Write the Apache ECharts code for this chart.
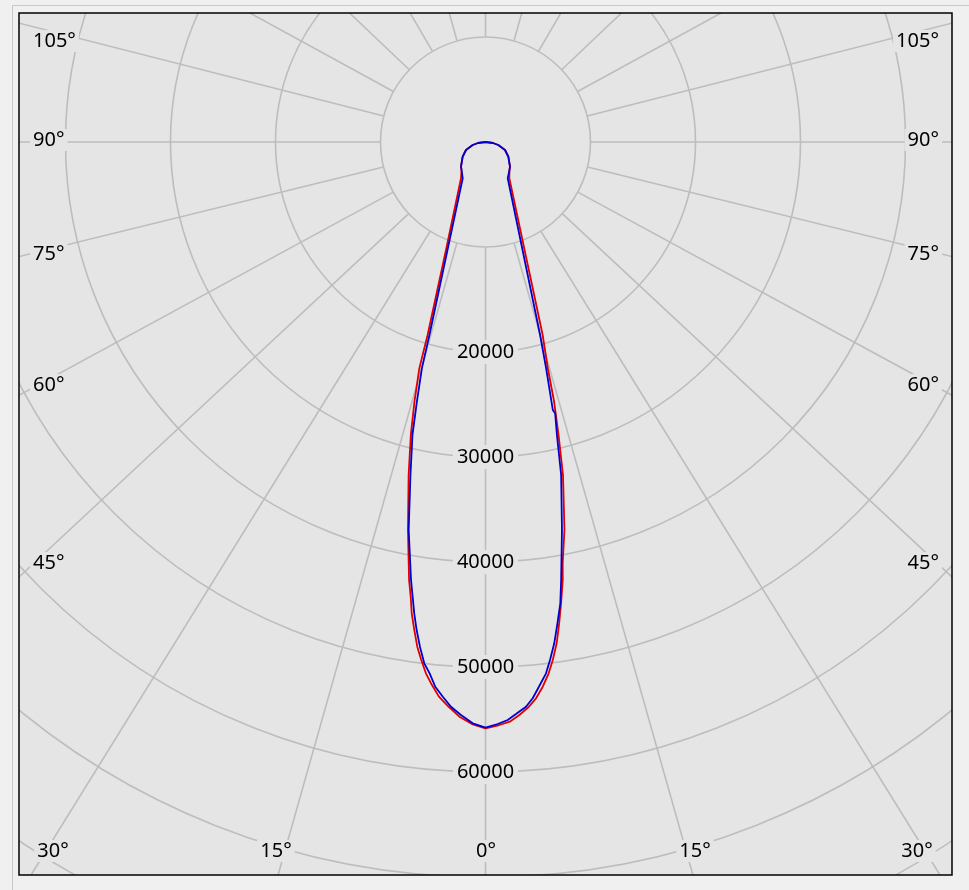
<!DOCTYPE html>
<html>
<head>
<meta charset="utf-8">
<script src="https://cdn.jsdelivr.net/npm/echarts@6.0.0/dist/echarts.min.js"></script>
<style>
    html, body { margin: 0; padding: 0; background: #f0f0f0; }
    #polarchart { width: 969px; height: 890px; }
</style>
</head>
<body>
<div id="polarchart"></div>
<script type="text/javascript">
    // luminous intensity (cd) against angle from nadir (deg)
    // C0-C180 plane (red), left half from 90 down to 0, right half from 0 up to 90
    var redLeftDeg  = [90, 82.4, 76.8, 67.7, 57.2, 44.8, 40.6, 34.0, 20.1, 16.7, 16.3, 15.3, 14.3, 13.0, 11.3, 10.33, 9.9, 9.34, 8.9, 8.3, 7.7, 7.07, 6.4, 5.63, 4.8, 3.73, 2.6, 1.33, 0];
    var redLeftCd   = [0, 720, 1250, 2010, 2590, 3310, 3510, 4170, 10950, 19190, 22460, 25650, 28790, 32550, 37690, 40790, 42340, 43890, 45430, 46970, 48500, 49710, 50920, 51970, 53010, 53900, 54790, 55450, 55840];
    var redRightDeg = [1.36, 2.4, 3.38, 4.4, 5.19, 6.0, 6.78, 7.4, 8.08, 8.7, 9.3, 10.0, 10.38, 11.5, 13.1, 14.0, 14.8, 15.4, 16.5, 33.3, 40.6, 44.8, 57.2, 67.7, 76.8, 82.4, 90];
    var redRightCd  = [55540, 55260, 54670, 53940, 53200, 52160, 50960, 49750, 48220, 46380, 44520, 42360, 40790, 37710, 32560, 28760, 25590, 22350, 19170, 4130, 3510, 3310, 2590, 2010, 1250, 720, 0];

    // C90-C270 plane (blue)
    var blueLeftDeg  = [90, 82.4, 76.8, 67.7, 57.2, 44.8, 40.6, 32.1, 16.2, 15.7, 14.8, 14.0, 12.7, 11.2, 9.65, 9.1, 8.6, 8.03, 7.4, 6.7, 6.0, 5.27, 4.4, 3.5, 2.45, 1.26, 0];
    var blueLeftCd   = [0, 720, 1250, 2010, 2590, 3310, 3510, 4080, 19140, 22390, 25590, 28750, 32510, 37670, 42310, 43860, 45400, 46940, 48470, 49990, 50890, 52100, 52990, 53890, 54620, 55380, 55780];
    var blueRightDeg = [1.2, 2.2, 3.05, 4.1, 4.85, 5.6, 6.5, 7.1, 7.81, 8.5, 9.21, 9.8, 11.15, 12.8, 13.7, 14.4, 14.1, 15.0, 15.8, 31.5, 40.6, 44.8, 57.2, 67.7, 76.8, 82.4, 90];
    var blueRightCd  = [55440, 55090, 54560, 53920, 53170, 52130, 50930, 49710, 48190, 46350, 44510, 42330, 37660, 32520, 28730, 26670, 26310, 22310, 19100, 4050, 3510, 3310, 2590, 2010, 1250, 720, 0];

    // grid: spoke directions as drawn, ring labels, angle labels
    var spokeAngles = [0, 15.8, 31.8, 47.0, 61.5, 76.2, 90, 104.3, 118.7, 133.5, 149.7, 164.3, 180,
                       195.7, 210.3, 226.5, 241.3, 255.7, 270, 283.8, 298.5, 313.0, 328.2, 344.2];
    var radiusLabels = [20000, 30000, 40000, 50000, 60000];
    var sideLabels = ['105°', '90°', '75°', '60°', '45°'];
    var bottomLabels = ['30°', '15°', '0°', '15°', '30°'];

    var plotBg = '#e5e5e5';
    var gridColor = '#bdbdbd';
    var font = '20px "Noto Sans"';
    var center = [485.5, 142];

    function planeData(leftDeg, leftCd, rightDeg, rightCd) {
        var out = [];
        for (var i = 0; i < leftDeg.length; i++) {
            out.push([leftCd[i], leftDeg[i]]);
        }
        for (var j = 0; j < rightDeg.length; j++) {
            out.push([rightCd[j], 360 - rightDeg[j]]);
        }
        return out;
    }

    // angle labels sit on the frame where the spokes end
    function labelGraphics() {
        var els = [];
        var sideY = [41, 140, 254, 385, 563];
        var bottomX = [53, 276, 486, 695, 917];
        for (var i = 0; i < sideLabels.length; i++) {
            els.push({type: 'text', z: 50, x: 30, y: sideY[i],
                style: {text: sideLabels[i], font: font, fill: '#000', align: 'left', verticalAlign: 'middle',
                    backgroundColor: plotBg, padding: [1, 3]}});
            els.push({type: 'text', z: 50, x: 942, y: sideY[i],
                style: {text: sideLabels[i], font: font, fill: '#000', align: 'right', verticalAlign: 'middle',
                    backgroundColor: plotBg, padding: [1, 3]}});
        }
        for (var k = 0; k < bottomLabels.length; k++) {
            els.push({type: 'text', z: 50, x: bottomX[k], y: 851,
                style: {text: bottomLabels[k], font: font, fill: '#000', align: 'center', verticalAlign: 'middle',
                    backgroundColor: plotBg, padding: [1, 3]}});
        }
        return els;
    }

    var myChart = echarts.init(document.getElementById('polarchart'));

    var frameMask = [
        {type: 'rect', z: 100, shape: {x: 0, y: 0, width: 969, height: 13}, style: {fill: '#f0f0f0'}},
        {type: 'rect', z: 100, shape: {x: 0, y: 875, width: 969, height: 15}, style: {fill: '#f0f0f0'}},
        {type: 'rect', z: 100, shape: {x: 0, y: 0, width: 19, height: 890}, style: {fill: '#f0f0f0'}},
        {type: 'rect', z: 100, shape: {x: 952, y: 0, width: 17, height: 890}, style: {fill: '#f0f0f0'}},
        {type: 'polyline', z: 101, shape: {points: [[12.5, 890], [12.5, 5.5], [969, 5.5]]},
            style: {stroke: '#c8c8c8', lineWidth: 1, fill: null}},
        {type: 'rect', z: 101, shape: {x: 19, y: 13, width: 933, height: 862},
            style: {stroke: '#000', lineWidth: 1.5, fill: null}}
    ];

    var option = {
        backgroundColor: plotBg,
        animation: false,
        polar: [
            {center: center, radius: [105, 1100]},
            {center: center, radius: [0, 840]}
        ],
        angleAxis: [
            {
                polarIndex: 0, type: 'value', min: 0, max: 360, interval: 15,
                startAngle: 270, clockwise: true,
                axisLine: {show: false},
                axisTick: {show: false, customValues: spokeAngles},
                axisLabel: {show: false},
                splitLine: {show: true, lineStyle: {color: gridColor, width: 1.6}}
            },
            {
                polarIndex: 1, type: 'value', min: 0, max: 360,
                startAngle: 270, clockwise: true,
                axisLine: {show: false}, axisTick: {show: false},
                axisLabel: {show: false}, splitLine: {show: false}
            }
        ],
        radiusAxis: [
            {
                polarIndex: 0, type: 'value', min: 0, max: 1,
                axisLine: {show: false}, axisTick: {show: false},
                axisLabel: {show: false}, splitLine: {show: false}
            },
            {
                polarIndex: 1, type: 'value', min: 0, max: 80000, interval: 10000, z: 1,
                axisLine: {show: false}, axisTick: {show: false},
                splitLine: {show: true, lineStyle: {color: gridColor, width: 1.6}},
                axisLabel: {
                    customValues: radiusLabels,
                    formatter: function (v) { return radiusLabels.indexOf(v) >= 0 ? String(v) : ''; },
                    margin: 0, align: 'center', verticalAlign: 'middle',
                    color: '#000', fontSize: 20, fontFamily: 'Noto Sans',
                    backgroundColor: plotBg, padding: [4, 4, 0, 4]
                }
            }
        ],
        graphic: {elements: labelGraphics().concat(frameMask)},
        series: [
            {
                name: 'C0-C180', type: 'line', coordinateSystem: 'polar', polarIndex: 1, z: 3,
                showSymbol: false, silent: true,
                lineStyle: {color: '#e00000', width: 1.8},
                data: planeData(redLeftDeg, redLeftCd, redRightDeg, redRightCd)
            },
            {
                name: 'C90-C270', type: 'line', coordinateSystem: 'polar', polarIndex: 1, z: 4,
                showSymbol: false, silent: true,
                lineStyle: {color: '#0000d0', width: 1.8},
                data: planeData(blueLeftDeg, blueLeftCd, blueRightDeg, blueRightCd)
            }
        ]
    };

    myChart.setOption(option, true);
</script>
</body>
</html>
